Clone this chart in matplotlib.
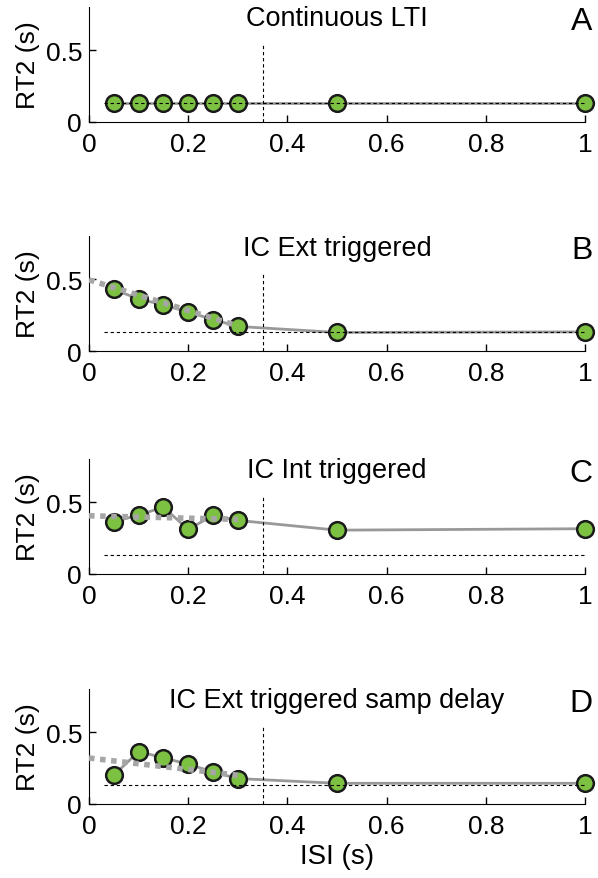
import numpy as np
import matplotlib
matplotlib.use("Agg")
import matplotlib.pyplot as plt

plt.rcParams['font.family'] = ['Liberation Sans', 'DejaVu Sans']

# ---------------------------------------------------------
# Donnees
# ---------------------------------------------------------
isi = [0.05, 0.10, 0.15, 0.20, 0.25, 0.30, 0.50, 1.00]
titles = ["Continuous LTI", "IC Ext triggered", "IC Int triggered",
          "IC Ext triggered samp delay"]
letters = ["A", "B", "C", "D"]

rt2_a = [0.135, 0.135, 0.135, 0.135, 0.135, 0.135, 0.135, 0.135]
rt2_b = [0.428, 0.362, 0.321, 0.271, 0.219, 0.171, 0.129, 0.133]
rt2_c = [0.364, 0.410, 0.465, 0.310, 0.408, 0.373, 0.305, 0.315]
rt2_d = [0.200, 0.365, 0.321, 0.277, 0.223, 0.177, 0.144, 0.144]
rt2_all = [rt2_a, rt2_b, rt2_c, rt2_d]

# droite de regression (pointillee) sur ISI 0 -> 0.3 : (y a 0, y a 0.3)
fit_x = [0.0, 0.3]
fit_b = [0.495, 0.175]
fit_c = [0.405, 0.380]
fit_d = [0.320, 0.200]
fit_all = [None, fit_b, fit_c, fit_d]

baseline = 0.133      # RT2 du modele continu
isi_limit = 0.35      # separation verticale

green = "#7cc142"

fig = plt.figure(figsize=(5.98, 8.79), dpi=100)
left, width = 89 / 598, 496 / 598
tops = [8, 237, 460, 690]
h = 115

for k in range(4):
    ax = fig.add_axes([left, 1 - (tops[k] + h) / 879, width, h / 879])
    ax.plot(isi, rt2_all[k], color="#999999", lw=2, zorder=3)
    ax.plot(isi, rt2_all[k], "o", ms=12, mfc=green, mec="#1a1a1a",
            mew=1.8, zorder=4, clip_on=False)
    # ligne de regression (par-dessus les points)
    if fit_all[k] is not None:
        ax.plot(fit_x, fit_all[k], color="#a6a6a6", lw=4, ls=(0, (1, 1)),
                zorder=5)
    ax.plot([0.03, 1.0], [baseline, baseline], color="k", lw=0.8,
            ls=(0, (3, 2.5)), zorder=6)
    ax.plot([isi_limit, isi_limit], [0, 0.55], color="k", lw=0.8,
            ls=(0, (3, 2.5)), zorder=6)

    ax.set_xlim(0, 1)
    ax.set_ylim(0, 0.8)
    ax.set_xticks([0, 0.2, 0.4, 0.6, 0.8, 1])
    ax.set_xticklabels(["0", "0.2", "0.4", "0.6", "0.8", "1"])
    ax.set_yticks([0, 0.5])
    ax.set_yticklabels(["0", "0.5"])
    ax.tick_params(direction="in", labelsize=19, length=5, width=1)
    ax.tick_params(axis="x", pad=7)
    ax.tick_params(axis="y", pad=5)
    ax.spines["top"].set_visible(False)
    ax.spines["right"].set_visible(False)
    ax.set_ylabel("RT2 (s)", fontsize=19, labelpad=4)
    ax.text(0.5, 0.9, titles[k], transform=ax.transAxes, ha="center",
            va="center", fontsize=19.5)
    ax.text(1.015, 0.88, letters[k], transform=ax.transAxes, ha="right",
            va="center", fontsize=23)
    if k == 3:
        ax.set_xlabel("ISI (s)", fontsize=20, labelpad=4)

fig.savefig("out.png", dpi=100)
